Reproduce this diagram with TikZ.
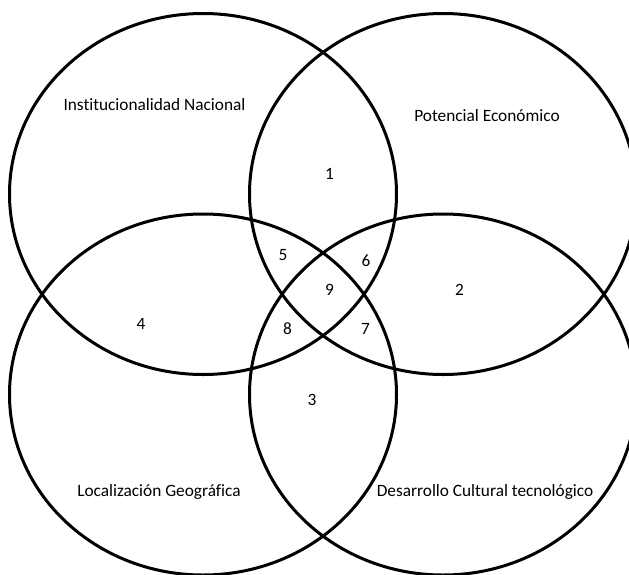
\documentclass[tikz,border=0pt]{standalone}
\usepackage{fontspec}
\setmainfont{Carlito}[Ligatures=NoCommon]
\usetikzlibrary{shapes.geometric}
\tikzset{
  setellipse/.style={draw=black, ellipse, line width=3pt, minimum width=387pt, minimum height=361pt, inner sep=0pt},
  settitle/.style={font=\fontsize{17.3}{20}\selectfont, inner sep=0pt, anchor=base},
  regnum/.style={font=\fontsize{17.3}{20}\selectfont, inner sep=0pt}
}
\begin{document}
\begin{tikzpicture}[x=1pt, y=-1pt]
\useasboundingbox (0,0) rectangle (629,574);
% the four sets
\node[setellipse] (inst) at (203,194) {};
\node[setellipse] (econ) at (443,194) {};
\node[setellipse] (geo) at (203,394.5) {};
\node[setellipse] (tec) at (443,394.5) {};
% set names
\node[settitle] (instname) at (154.5,110) {Institucionalidad Nacional};
\node[settitle] (econname) at (487,121.5) {Potencial Económico};
\node[settitle] (geoname) at (159,496.5) {Localización Geográfica};
\node[settitle] (tecname) at (485,496.5) {Desarrollo Cultural tecnológico};
% regions
\node[regnum] (r1) at (329.5,174) {1};
\node[regnum] (r2) at (459.5,290) {2};
\node[regnum] (r3) at (312,399.5) {3};
\node[regnum] (r4) at (141,324) {4};
\node[regnum] (r5) at (283,255) {5};
\node[regnum] (r6) at (366,261) {6};
\node[regnum] (r7) at (365.5,328.5) {7};
\node[regnum] (r8) at (287.5,329) {8};
\node[regnum] (r9) at (329.5,289.5) {9};
\end{tikzpicture}
\end{document}
